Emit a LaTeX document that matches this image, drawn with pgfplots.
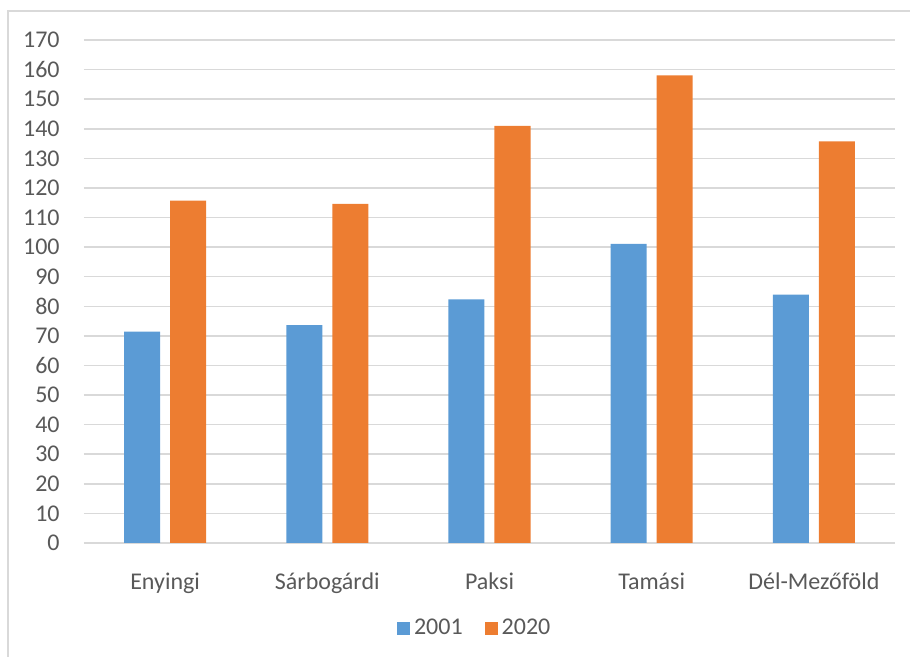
\documentclass[border=0pt]{standalone}
\usepackage{fontspec}
\setmainfont{Carlito}
\usepackage{pgfplots}
\pgfplotsset{compat=1.18}
\definecolor{bar01}{HTML}{5B9BD5}
\definecolor{bar20}{HTML}{ED7D31}
\definecolor{txt}{HTML}{595959}
\definecolor{gridc}{HTML}{D9D9D9}

\begin{document}
\begin{tikzpicture}
\useasboundingbox (0,0) rectangle (455pt,328.5pt);
\draw[gridc, line width=0.75pt] (4pt,0) -- (4pt,323pt) -- (455pt,323pt);
\begin{axis}[
  at={(42pt,57pt)}, anchor=south west,
  scale only axis,
  width=405.5pt, height=251.5pt,
  ybar=5pt, bar width=18pt,
  xmin=-0.5, xmax=4.5,
  ymin=0, ymax=170,
  xtick=data,
  xticklabels={Enyingi, Sárbogárdi, Paksi, Tamási, Dél-Mezőföld},
  ytick={0,10,...,170},
  axis line style={draw=none},
  tick style={draw=none},
  ymajorgrids, grid style={color=gridc, line width=0.75pt},
  tick label style={font=\fontsize{12}{14}\selectfont, text=txt},
  /pgf/number format/assume math mode=true,
  yticklabel style={inner sep=0pt, xshift=-12pt},
  xticklabel style={inner sep=0pt, yshift=-10.5pt},
  legend style={at={(0.483,-0.169)}, anchor=center, draw=none,
    legend columns=2, font=\fontsize{12}{14}\selectfont, text=txt,
    /tikz/every even column/.append style={column sep=9pt}},
  legend image code/.code={\fill[#1, draw=none] (0pt,-3.25pt) rectangle (6.5pt,3.25pt);},
  legend cell align=left,
]
\addplot[fill=bar01, draw=none] coordinates {(0,71.4) (1,73.6) (2,82.3) (3,101.1) (4,83.9)};
\addplot[fill=bar20, draw=none] coordinates {(0,115.7) (1,114.6) (2,141.0) (3,158.0) (4,135.7)};
\legend{2001, 2020}
\end{axis}
\end{tikzpicture}
\end{document}
